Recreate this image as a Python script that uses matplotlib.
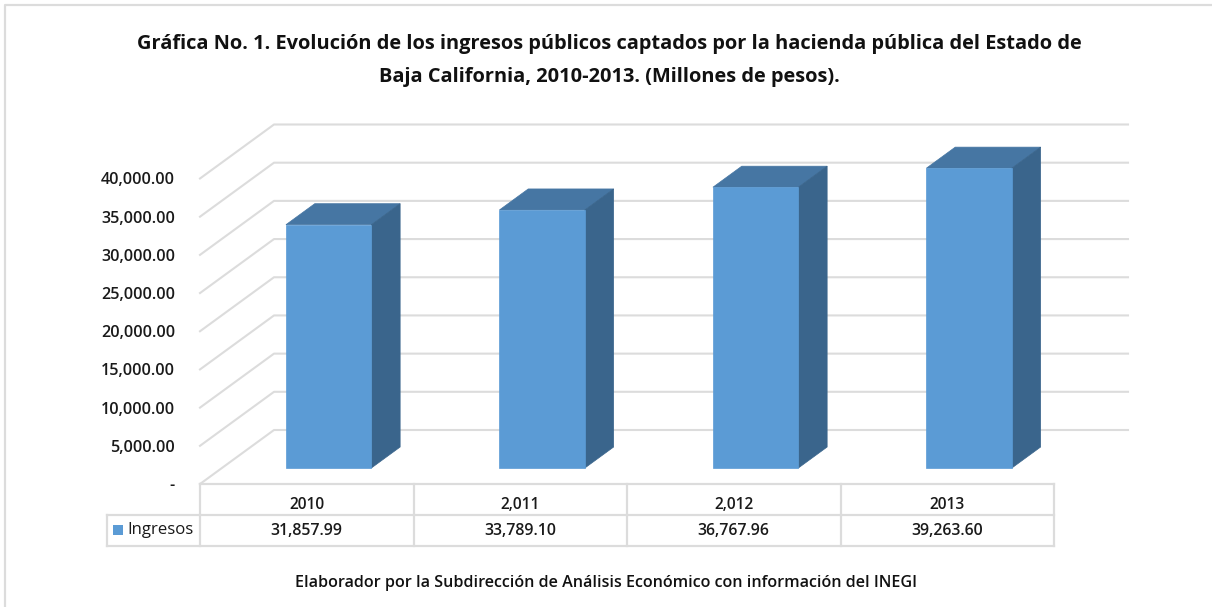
import matplotlib
matplotlib.use("Agg")
import matplotlib.pyplot as plt
from matplotlib.patches import Polygon, Rectangle
from matplotlib.transforms import Affine2D

years = ["2010", "2,011", "2,012", "2013"]
ingresos = [31857.99, 33789.10, 36767.96, 39263.60]
yticks = [0, 5000, 10000, 15000, 20000, 25000, 30000, 35000, 40000]
title = ("Gráfica No. 1. Evolución de los ingresos públicos captados por la hacienda pública del Estado de\n"
         "Baja California, 2010-2013. (Millones de pesos).")
source = "Elaborador por la Subdirección de Análisis Económico con información del INEGI"
series_name = "Ingresos"

W, H = 1212, 607
plt.rcParams["font.family"] = ["Open Sans", "DejaVu Sans"]
fig = plt.figure(figsize=(W / 100, H / 100), dpi=100)
fig.patch.set_facecolor("white")

L, R, B, T = 200, 1054, 484, 178.5
ax = fig.add_axes([L / W, 1 - B / H, (R - L) / W, (B - T) / H])
ax.set_xlim(0, 4)
ax.set_ylim(0, 40000)
ax.patch.set_visible(False)
for s in ax.spines.values():
    s.set_visible(False)

GRID = "#dcdcdc"
TEXT = "#1a1a1a"
FRONT, TOP, SIDE = "#5b9bd5", "#4676a3", "#3a658c"
DX, DY = 74, 54          # pixel shift of the back wall


def shifted(frac):
    return ax.transData + Affine2D().translate(DX * frac, DY * frac)


# walls: gridlines run along the floor depth and along the back wall
back = shifted(1)
for v in yticks:
    p0 = ax.transData.transform((0, v))
    p1 = back.transform((0, v))
    p2 = back.transform((4, v))
    fig.add_artist(plt.Line2D([p0[0] / W, p1[0] / W, p2[0] / W],
                              [p0[1] / H, p1[1] / H, p2[1] / H],
                              color=GRID, lw=1.5, transform=fig.transFigure, zorder=1))

# 3D bars
z0, z1 = 0.296, 0.685
for i, val in enumerate(ingresos):
    x0, x1 = i + 0.30, i + 0.70
    fz, bz = shifted(z0), shifted(z1)
    pts = lambda tr, seq: [tuple(tr.transform(q)) for q in seq]
    top = pts(fz, [(x0, val), (x1, val)]) + pts(bz, [(x1, val), (x0, val)])
    side = pts(fz, [(x1, 0), (x1, val)]) + pts(bz, [(x1, val), (x1, 0)])
    front = pts(fz, [(x0, 0), (x1, 0), (x1, val), (x0, val)])
    for poly, col in ((top, TOP), (side, SIDE), (front, FRONT)):
        fig.add_artist(Polygon(poly, closed=True, facecolor=col, edgecolor=col, lw=0.5,
                               transform=None, zorder=3))

# axis labels
ax.set_yticks(yticks)
ax.set_yticklabels(["-" if v == 0 else f"{v:,.2f}" for v in yticks],
                   fontsize=11.6, fontweight="semibold", color=TEXT)
ax.tick_params(axis="y", length=0, pad=18)
ax.set_xticks([i + 0.5 for i in range(4)])
ax.set_xticklabels(years, fontsize=11.2, fontweight="semibold", color=TEXT)
ax.tick_params(axis="x", length=0, pad=9.5)

# data table
cols = [L + (R - L) * i / 4 for i in range(5)]


def hline(y, x0, x1):
    fig.add_artist(plt.Line2D([x0 / W, x1 / W], [1 - y / H] * 2, color=GRID, lw=1.6,
                              transform=fig.transFigure))


def vline(x, y0, y1):
    fig.add_artist(plt.Line2D([x / W] * 2, [1 - y0 / H, 1 - y1 / H], color=GRID, lw=1.6,
                              transform=fig.transFigure))


hline(484, L, R)
hline(515, 107, R)
hline(546, 107, R)
vline(107, 515, 546)
for c in cols:
    vline(c, 484, 546)
for i, val in enumerate(ingresos):
    fig.text(((cols[i] + cols[i + 1]) / 2) / W, 1 - 531 / H, f"{val:,.2f}", ha="center", va="center",
             fontsize=11.4, fontweight="semibold", color=TEXT)
fig.add_artist(Rectangle((113 / W, 1 - 535 / H), 10 / W, 10 / H, facecolor=FRONT, edgecolor="none",
                         transform=fig.transFigure))
fig.text(127 / W, 1 - 530 / H, series_name, ha="left", va="center", fontsize=12.1, fontweight="medium", color=TEXT)

# text
fig.text(609.5 / W, 1 - 60.5 / H, title, ha="center", va="center", fontsize=14.4, fontweight="bold",
         color="#111111", linespacing=1.85)
fig.text(606 / W, 1 - 583 / H, source, ha="center", va="center", fontsize=11.6, fontweight="semibold",
         color="#111111")

# frame
fig.add_artist(plt.Line2D([5 / W, 5 / W, 1], [0, 1 - 5 / H, 1 - 5 / H], color=GRID, lw=1.6,
                          transform=fig.transFigure))
fig.savefig("out.png", dpi=100)
